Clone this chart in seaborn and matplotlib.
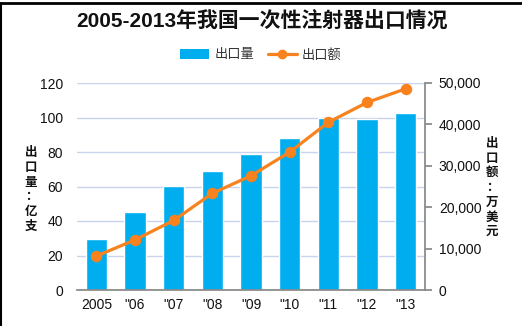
import matplotlib
matplotlib.use("Agg")
import matplotlib.pyplot as plt
import seaborn as sns
import pandas as pd
from matplotlib.patches import Patch
from matplotlib.lines import Line2D
from matplotlib.ticker import FuncFormatter

years = ["2005", '"06', '"07', '"08', '"09', '"10', '"11', '"12', '"13']
volume = [29.6, 45.0, 60.5, 69.0, 78.8, 88.3, 99.9, 99.3, 102.8]   # 亿支
value = [8200, 12100, 16800, 23350, 27600, 33300, 40500, 45300, 48600]  # 万美元

title = "2005-2013年我国一次性注射器出口情况"
bar_name = "出口量"
line_name = "出口额"
left_label = "出口量：亿支"
right_label = "出口额：万美元"

sns.set_theme(style="white")
plt.rcParams['font.family'] = ['Liberation Sans', 'Noto Sans CJK SC', 'DejaVu Sans']

BLUE = "#00aeef"
ORANGE = "#f7821e"
GRID = "#c7d4ee"

df = pd.DataFrame({"year": years, "volume": volume, "value": value})

fig = plt.figure(figsize=(5.22, 3.26), dpi=100)
ax = fig.add_axes([77/522, 1-290/326, (425-77)/522, (290-83)/326])

sns.barplot(data=df, x="year", y="volume", color=BLUE, width=0.56,
            saturation=1, ax=ax, zorder=2)
ax.set_ylim(0, 120)
ax.set_yticks(range(0, 121, 20))
ax.yaxis.grid(True, color=GRID, linewidth=1.0)
ax.set_axisbelow(True)
ax.set_xlabel("")
ax.set_ylabel("")
for s in ["left", "top", "right"]:
    ax.spines[s].set_visible(False)
ax.spines["bottom"].set_color("#888888")
ax.tick_params(axis="y", length=0, labelsize=10, pad=10, colors="#111111")
ax.tick_params(axis="x", length=0, labelsize=10, pad=6, colors="#111111")
ax.set_xlim(-0.5, len(years) - 0.5)

ax2 = ax.twinx()
sns.pointplot(data=df, x="year", y="value", color=ORANGE, ax=ax2,
              markers="o", linewidth=2.3, markersize=6.5, errorbar=None)
ax2.set_ylim(0, 50000)
ax2.set_yticks(range(0, 50001, 10000))
ax2.yaxis.set_major_formatter(FuncFormatter(lambda v, p: f"{int(v):,}"))
ax2.set_xlim(-0.5, len(years) - 0.5)
ax2.set_ylabel("")
ax2.set_xlabel("")
for s in ["left", "top", "bottom"]:
    ax2.spines[s].set_visible(False)
ax2.spines["right"].set_visible(True)
ax2.spines["right"].set_color("#888888")
ax2.tick_params(axis="y", direction="out", length=5, color="#888888",
                labelsize=10, pad=5, colors="#111111", right=True)
for t in ax2.get_yticklabels():
    t.set_color("#111111")
ax2.yaxis.grid(False)

fig.text(0.502, 1-22/326, title, ha="center", va="center",
         fontsize=15, fontweight="bold", color="#111111")

handles = [Patch(facecolor=BLUE, edgecolor="none"),
           Line2D([0], [0], color=ORANGE, linewidth=2.3, marker="o", markersize=6)]
fig.legend(handles, [bar_name, line_name], loc="center",
           bbox_to_anchor=(0.5, 1-55/326), ncol=2, frameon=False,
           fontsize=9.5, handlelength=2.2, handleheight=0.8,
           columnspacing=1.0, handletextpad=0.4, labelcolor="#333333")

fig.text(31/522, 1-190/326, "\n".join(left_label), ha="center", va="center",
         fontsize=9, linespacing=1.3, color="#111111", fontweight="bold")
fig.text(492/522, 1-188/326, "\n".join(right_label), ha="center", va="center",
         fontsize=9, linespacing=1.3, color="#111111", fontweight="bold")

# frame lines (top and left)
fig.add_artist(Line2D([0, 1], [1-3/326, 1-3/326], transform=fig.transFigure,
                      color="black", linewidth=2))
fig.add_artist(Line2D([1/522, 1/522], [0, 1-3/326], transform=fig.transFigure,
                      color="black", linewidth=1.5))

fig.savefig("out.png", dpi=100)
